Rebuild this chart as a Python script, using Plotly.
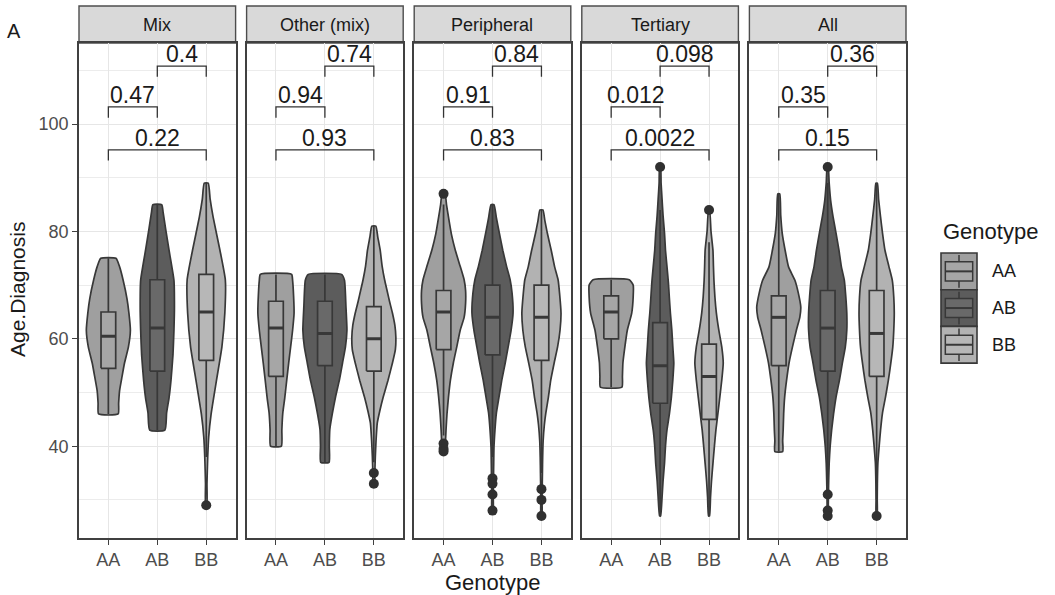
import plotly.graph_objects as go

# ---------------- data ----------------
PANELS = ["Mix", "Other (mix)", "Peripheral", "Tertiary", "All"]
GENOTYPES = ["AA", "AB", "BB"]

# violin density profiles: y levels (ascending) and half-widths (category units)
MIX_Y = [
    [46, 48, 50.4, 53, 55.5, 58.5, 61.6, 64.8, 67.5, 71, 73.4, 75],
    [43, 46.2, 49, 52.3, 57, 61.6, 66, 70.9, 76.5, 80.5, 83.5, 85],
    [29, 33, 38, 41.7, 46, 52.3, 58.5, 64.8, 71, 76.5, 82.7, 86, 89],
]
MIX_W = [
    [0.2, 0.21, 0.23, 0.28, 0.33, 0.41, 0.45, 0.42, 0.38, 0.30, 0.23, 0.155],
    [0.155, 0.19, 0.24, 0.28, 0.32, 0.34, 0.35, 0.34, 0.24, 0.17, 0.12, 0.09],
    [0.012, 0.015, 0.03, 0.05, 0.1, 0.21, 0.32, 0.38, 0.39, 0.28, 0.14, 0.08, 0.04],
]
OTHER_Y = [
    [40, 43, 46.2, 49, 52.3, 55.5, 58.5, 61.6, 64.8, 68, 70.9, 72],
    [37, 40, 43.1, 46, 49.3, 52.5, 55.5, 58.5, 61.6, 66, 70.9, 72],
    [33, 35, 38, 41, 44.3, 46.5, 49.1, 52.3, 55.5, 58, 60.3, 62.5, 64.8, 67, 69, 71, 73.5, 76.5, 79, 81],
]
OTHER_W = [
    [0.11, 0.12, 0.14, 0.18, 0.22, 0.26, 0.30, 0.34, 0.37, 0.36, 0.34, 0.32],
    [0.085, 0.09, 0.1, 0.15, 0.22, 0.3, 0.36, 0.42, 0.45, 0.43, 0.40, 0.34],
    [0.015, 0.02, 0.03, 0.045, 0.07, 0.12, 0.19, 0.29, 0.38, 0.44, 0.45, 0.43, 0.38, 0.32, 0.27, 0.22, 0.17, 0.13, 0.08, 0.04],
]
PERI_Y = [
    [39, 41, 43, 46, 49.1, 52.3, 55.5, 58.5, 61.6, 64, 66.6, 69, 71, 73.5, 76.5, 79.5, 82.7, 85, 87],
    [28, 31, 34, 37, 39.8, 43, 46.2, 49, 52.3, 55.5, 58.5, 61.6, 64.8, 68.5, 71, 73.4, 76.5, 79.7, 82.5, 85],
    [27, 30, 32, 35, 38, 41, 44, 46.2, 49, 52.3, 55.5, 58.5, 61.6, 64.8, 68.5, 71, 73.4, 76.5, 79.7, 82, 84],
]
PERI_W = [
    [0.03, 0.04, 0.05, 0.07, 0.1, 0.14, 0.2, 0.27, 0.34, 0.42, 0.45, 0.45, 0.42, 0.34, 0.24, 0.16, 0.1, 0.06, 0.03],
    [0.012, 0.015, 0.02, 0.025, 0.03, 0.05, 0.08, 0.13, 0.19, 0.26, 0.32, 0.38, 0.42, 0.40, 0.36, 0.29, 0.21, 0.14, 0.08, 0.03],
    [0.01, 0.012, 0.015, 0.02, 0.025, 0.035, 0.06, 0.09, 0.14, 0.19, 0.26, 0.33, 0.38, 0.40, 0.37, 0.34, 0.27, 0.20, 0.12, 0.07, 0.03],
]
TERT_Y = [
    [51, 53, 55.5, 58.5, 61.6, 64.8, 67.8, 70, 71],
    [27, 30.5, 33.5, 36.8, 40, 43, 46, 49.1, 52.3, 55.5, 58.5, 61.6, 64.8, 67.5, 70.4, 73.5, 76.5, 79.7, 83, 86, 89, 92],
    [27, 30.5, 33.5, 36.8, 40, 43, 46, 49.1, 52.3, 55.5, 58.5, 61.6, 64.8, 67.8, 70.9, 73.5, 76.5, 80, 84],
]
TERT_W = [
    [0.22, 0.23, 0.24, 0.28, 0.33, 0.42, 0.45, 0.45, 0.37],
    [0.01, 0.04, 0.06, 0.09, 0.11, 0.14, 0.19, 0.23, 0.26, 0.28, 0.26, 0.24, 0.21, 0.19, 0.17, 0.14, 0.11, 0.09, 0.06, 0.04, 0.02, 0.01],
    [0.01, 0.03, 0.05, 0.08, 0.11, 0.14, 0.18, 0.22, 0.26, 0.29, 0.26, 0.2, 0.15, 0.12, 0.1, 0.09, 0.08, 0.04, 0.01],
]
ALL_Y = [
    [39, 41, 43, 46, 49.1, 52.3, 55.5, 58.5, 61.6, 64, 65.9, 68.5, 70.9, 73.4, 76.5, 79.7, 83, 87],
    [27, 29, 31, 33.5, 36.8, 40, 43, 46, 49.1, 52.3, 55.5, 58.5, 61.6, 64.8, 67.8, 70.9, 73.4, 76.5, 79.7, 82.7, 85.8, 89, 92],
    [27, 30, 33, 36.8, 39.8, 43, 46.2, 49.1, 52.3, 55.5, 58.5, 61.6, 64.8, 67.8, 70.9, 73.5, 76.5, 79.7, 82.7, 86, 89],
]
ALL_W = [
    [0.08, 0.08, 0.09, 0.1, 0.12, 0.16, 0.21, 0.28, 0.36, 0.43, 0.45, 0.40, 0.33, 0.2, 0.13, 0.07, 0.04, 0.02],
    [0.01, 0.012, 0.015, 0.02, 0.03, 0.05, 0.08, 0.12, 0.17, 0.24, 0.30, 0.36, 0.39, 0.39, 0.37, 0.34, 0.28, 0.23, 0.17, 0.11, 0.06, 0.03, 0.01],
    [0.01, 0.012, 0.015, 0.025, 0.05, 0.08, 0.12, 0.18, 0.24, 0.29, 0.33, 0.35, 0.36, 0.35, 0.32, 0.25, 0.17, 0.12, 0.08, 0.04, 0.015],
]
VIOLIN_Y = [MIX_Y, OTHER_Y, PERI_Y, TERT_Y, ALL_Y]
VIOLIN_W = [MIX_W, OTHER_W, PERI_W, TERT_W, ALL_W]

# boxplot statistics per panel: [AA, AB, BB]
Q1 = [[54.5, 54, 56], [53, 55, 54], [58, 57, 56], [60, 48, 45], [55, 54, 53]]
MEDIAN = [[60.5, 62, 65], [62, 61, 60], [65, 64, 64], [65, 55, 53], [64, 62, 61]]
Q3 = [[65, 71, 72], [67, 67, 66], [69, 70, 70], [68, 63, 59], [68, 69, 69]]
LOWER = [[46, 43, 38], [40, 37, 37], [42, 38, 35], [51, 27, 27], [39, 33, 30]]
UPPER = [[75, 85, 89], [72, 72, 81], [85, 85, 84], [71, 84, 78], [87, 89, 89]]
OUTLIERS = [
    [[], [], [29]],
    [[], [], [35, 33]],
    [[87, 40.5, 39.5, 39], [34, 33, 31, 28], [32, 30, 27]],
    [[], [92], [84]],
    [[], [92, 31, 28, 27], [27]],
]

# p-values per panel
P_AA_AB = ["0.47", "0.94", "0.91", "0.012", "0.35"]
P_AB_BB = ["0.4", "0.74", "0.84", "0.098", "0.36"]
P_AA_BB = ["0.22", "0.93", "0.83", "0.0022", "0.15"]

Y_TICKS = [40, 60, 80, 100]
Y_MINOR = [30, 50, 70, 90, 110]

# ---------------- styles ----------------
FONT = "Liberation Sans, Arial, Helvetica, sans-serif"
VIOLIN_FILL = {"AA": "#9f9f9f", "AB": "#5c5c5c", "BB": "#b2b2b2"}
BOX_FILL = {"AA": "#a6a6a6", "AB": "#696969", "BB": "#b7b7b7"}
OUTLINE = "#383838"
W, H = 1055, 595
ML, MR, MT, MB = 79, 149, 6, 57
PW = W - ML - MR
PH = H - MT - MB
GAP = 11
PANEL_W = (PW - 4 * GAP) / 5
STRIP_H = 37
Y_TOP = (PH - STRIP_H) / PH
Y_RANGE = [22.9, 115.1]
BOX_HALF = 0.15
BRACKETS = [(1, 2, 103.2, P_AA_AB), (2, 3, 110.8, P_AB_BB), (1, 3, 95.2, P_AA_BB)]
TICK_DROP = 2.0


def px_x(px):
    return (px - ML) / PW


def px_y(py):
    return (MT + PH - py) / PH


fig = go.Figure()
shapes = []
annotations = []
layout_axes = {}

for i, panel in enumerate(PANELS):
    sfx = "" if i == 0 else str(i + 1)
    xa, ya = "x" + sfx, "y" + sfx
    x0 = i * (PANEL_W + GAP) / PW
    x1 = (i * (PANEL_W + GAP) + PANEL_W) / PW

    for j, g in enumerate(GENOTYPES):
        pos = j + 1
        ys = VIOLIN_Y[i][j]
        ws = VIOLIN_W[i][j]
        # violin outline
        vx = [pos + w for w in ws] + [pos - w for w in reversed(ws)] + [pos + ws[0]]
        vy = list(ys) + list(reversed(ys)) + [ys[0]]
        fig.add_trace(go.Scatter(
            x=vx, y=vy, mode="lines", fill="toself", fillcolor=VIOLIN_FILL[g],
            line=dict(color=OUTLINE, width=1.7, shape="spline", smoothing=0.5),
            xaxis=xa, yaxis=ya, showlegend=False, hoverinfo="skip"))
        # whiskers
        q1, md, q3, lo, hi = Q1[i][j], MEDIAN[i][j], Q3[i][j], LOWER[i][j], UPPER[i][j]
        fig.add_trace(go.Scatter(
            x=[pos, pos, None, pos, pos], y=[lo, q1, None, q3, hi], mode="lines",
            line=dict(color=OUTLINE, width=1.7),
            xaxis=xa, yaxis=ya, showlegend=False, hoverinfo="skip"))
        # box
        fig.add_trace(go.Scatter(
            x=[pos - BOX_HALF, pos + BOX_HALF, pos + BOX_HALF, pos - BOX_HALF, pos - BOX_HALF],
            y=[q1, q1, q3, q3, q1], mode="lines", fill="toself", fillcolor=BOX_FILL[g],
            line=dict(color=OUTLINE, width=1.7),
            xaxis=xa, yaxis=ya, showlegend=False, hoverinfo="skip"))
        # median
        fig.add_trace(go.Scatter(
            x=[pos - BOX_HALF, pos + BOX_HALF], y=[md, md], mode="lines",
            line=dict(color=OUTLINE, width=3),
            xaxis=xa, yaxis=ya, showlegend=False, hoverinfo="skip"))
        if OUTLIERS[i][j]:
            fig.add_trace(go.Scatter(
                x=[pos] * len(OUTLIERS[i][j]), y=OUTLIERS[i][j], mode="markers",
                marker=dict(color="#303030", size=10),
                xaxis=xa, yaxis=ya, showlegend=False, hoverinfo="skip"))

    # significance brackets
    for a, b, lvl, plist in BRACKETS:
        shapes.append(dict(
            type="path", xref=xa, yref=ya,
            path=f"M {a},{lvl - TICK_DROP} L {a},{lvl} L {b},{lvl} L {b},{lvl - TICK_DROP}",
            line=dict(color="#333333", width=1.3)))
        annotations.append(dict(
            x=(a + b) / 2, y=lvl, xref=xa, yref=ya, text=plist[i], showarrow=False,
            xanchor="center", yanchor="bottom", yshift=-3,
            font=dict(family=FONT, size=23, color="#1a1a1a")))

    # strip
    shapes.append(dict(type="rect", xref="paper", yref="paper", x0=x0, x1=x1,
                       y0=Y_TOP, y1=1.0, fillcolor="#d9d9d9",
                       line=dict(color="#4d4d4d", width=1.4), layer="below"))
    annotations.append(dict(x=(x0 + x1) / 2, y=(Y_TOP + 1) / 2, xref="paper", yref="paper",
                            text=panel, showarrow=False, xanchor="center", yanchor="middle",
                            font=dict(family=FONT, size=18, color="#1a1a1a")))

    layout_axes["xaxis" + sfx] = dict(
        domain=[x0, x1], anchor=ya, range=[0.4, 3.6], tickvals=[1, 2, 3], ticktext=GENOTYPES,
        showgrid=True, gridcolor="#e6e6e6", gridwidth=1.4, zeroline=False,
        showline=True, mirror=True, linecolor="#404040", linewidth=1.5,
        ticks="outside", ticklen=5, tickcolor="#404040", tickwidth=1.3,
        tickfont=dict(family=FONT, size=18, color="#4d4d4d"), fixedrange=True)
    layout_axes["yaxis" + sfx] = dict(
        domain=[0, Y_TOP], anchor=xa, range=Y_RANGE, tickvals=Y_TICKS,
        showgrid=True, gridcolor="#e6e6e6", gridwidth=1.4, zeroline=False,
        showline=True, mirror=True, linecolor="#404040", linewidth=1.5,
        ticks="outside" if i == 0 else "", ticklen=5, tickcolor="#404040", tickwidth=1.3,
        showticklabels=(i == 0),
        tickfont=dict(family=FONT, size=18, color="#4d4d4d"),
        minor=dict(tickvals=Y_MINOR, showgrid=True, gridcolor="#ececec", gridwidth=1, ticks=""),
        fixedrange=True)

# axis titles and tag
annotations.append(dict(x=px_x(17), y=px_y(290), xref="paper", yref="paper",
                        text="Age.Diagnosis", textangle=-90, showarrow=False,
                        xanchor="center", yanchor="middle",
                        font=dict(family=FONT, size=21, color="#1a1a1a")))
annotations.append(dict(x=px_x(492), y=px_y(582), xref="paper", yref="paper",
                        text="Genotype", showarrow=False, xanchor="center", yanchor="middle",
                        font=dict(family=FONT, size=22, color="#1a1a1a")))
annotations.append(dict(x=px_x(14), y=px_y(31), xref="paper", yref="paper",
                        text="A", showarrow=False, xanchor="center", yanchor="middle",
                        font=dict(family=FONT, size=20, color="#1a1a1a")))

# manual legend (ggplot-style keys)
annotations.append(dict(x=px_x(941), y=px_y(231), xref="paper", yref="paper", xanchor="left",
                        yanchor="middle", text="Genotype", showarrow=False,
                        font=dict(family=FONT, size=22, color="#1a1a1a")))
KEY_X0, KEY_X1, KEY_TOP, KEY_H = 941, 977, 253, 36.7
for k, g in enumerate(GENOTYPES):
    t = KEY_TOP + k * KEY_H
    b = t + KEY_H
    shapes.append(dict(type="rect", xref="paper", yref="paper",
                       x0=px_x(KEY_X0), x1=px_x(KEY_X1), y0=px_y(b), y1=px_y(t),
                       fillcolor=VIOLIN_FILL[g], line=dict(color=OUTLINE, width=1.6)))
    kw = KEY_X1 - KEY_X0
    bx0, bx1 = KEY_X0 + 0.12 * kw, KEY_X1 - 0.12 * kw
    bt, bb = t + 0.24 * KEY_H, t + 0.76 * KEY_H
    cx = (KEY_X0 + KEY_X1) / 2
    shapes.append(dict(type="line", xref="paper", yref="paper", x0=px_x(cx), x1=px_x(cx),
                       y0=px_y(t + 2), y1=px_y(bt), line=dict(color=OUTLINE, width=1.5)))
    shapes.append(dict(type="line", xref="paper", yref="paper", x0=px_x(cx), x1=px_x(cx),
                       y0=px_y(bb), y1=px_y(b - 2), line=dict(color=OUTLINE, width=1.5)))
    shapes.append(dict(type="rect", xref="paper", yref="paper",
                       x0=px_x(bx0), x1=px_x(bx1), y0=px_y(bb), y1=px_y(bt),
                       fillcolor=BOX_FILL[g], line=dict(color=OUTLINE, width=1.5)))
    shapes.append(dict(type="line", xref="paper", yref="paper", x0=px_x(bx0), x1=px_x(bx1),
                       y0=px_y((bt + bb) / 2), y1=px_y((bt + bb) / 2),
                       line=dict(color=OUTLINE, width=2)))
    annotations.append(dict(x=px_x(990), y=px_y(t + KEY_H / 2), xref="paper", yref="paper",
                            xanchor="left", yanchor="middle", text=g, showarrow=False,
                            font=dict(family=FONT, size=18, color="#1a1a1a")))

fig.update_layout(
    width=W, height=H, margin=dict(l=ML, r=MR, t=MT, b=MB),
    paper_bgcolor="white", plot_bgcolor="white", showlegend=False,
    shapes=shapes, annotations=annotations,
    font=dict(family=FONT), **layout_axes)

fig.write_html(
    "out.html",
    config={"displayModeBar": False},
    post_script="document.body.style.margin='0';document.body.style.overflow='hidden';")
